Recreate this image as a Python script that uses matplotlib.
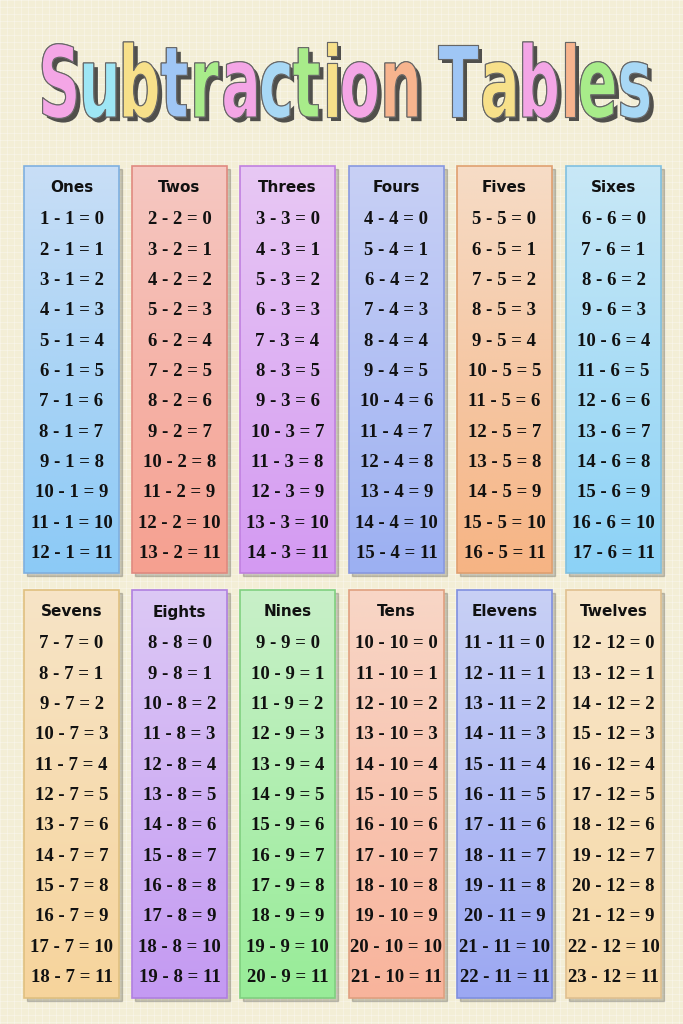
import matplotlib
matplotlib.use("Agg")
import matplotlib.pyplot as plt
import matplotlib.patheffects as pe
import numpy as np
from matplotlib.colors import to_rgb
from matplotlib.patches import Rectangle, PathPatch
from matplotlib.textpath import TextPath
from matplotlib.font_manager import FontProperties
from matplotlib.transforms import Affine2D

title = "Subtraction Tables"
title_colors = ["#f4a6e6", "#9ee6f5", "#f7e08a", "#9fc6f5", "#a8ec8a", "#f4a6e6", "#a8d8f5",
                "#a8ec8a", "#f7e08a", "#f4a6e6", "#f7b48e", None, "#9fc6f5", "#f7e08a",
                "#f4a6e6", "#f7b48e", "#a8ec8a", "#a8d8f5"]
table_names = ["Ones", "Twos", "Threes", "Fours", "Fives", "Sixes",
               "Sevens", "Eights", "Nines", "Tens", "Elevens", "Twelves"]
subtrahends = [1, 2, 3, 4, 5, 6, 7, 8, 9, 10, 11, 12]
differences = [0, 1, 2, 3, 4, 5, 6, 7, 8, 9, 10, 11]
top_colors = ["#c8def6", "#f6c8c2", "#e8c8f4", "#c8d0f5", "#f6dcc6", "#c8e8f6",
              "#f7e4c6", "#dcc8f5", "#c8f0c8", "#f8d6c6", "#c8d0f5", "#f8e6ca"]
bottom_colors = ["#8ccaf6", "#f5a090", "#d49af2", "#9cb0f2", "#f6b484", "#8cd2f6",
                 "#f6d49c", "#c49af2", "#98ec98", "#f8b49c", "#9ca8f2", "#f6d8a6"]
border_colors = ["#7fb0e0", "#e08a80", "#c080e0", "#8898e0", "#e0a070", "#80c0e0",
                 "#e0c080", "#b080e0", "#80d080", "#e0a080", "#8090e0", "#e0c090"]

W, H = 683, 1024
fig = plt.figure(figsize=(W / 100, H / 100), dpi=100)
ax = fig.add_axes([0, 0, 1, 1])
ax.set_xlim(0, W)
ax.set_ylim(H, 0)
ax.axis("off")

ax.add_patch(Rectangle((0, 0), W, H, color="#f3eed6", zorder=0))
for x in np.arange(0, W, 7):
    ax.plot([x, x], [0, H], color="white", lw=0.6, alpha=0.35, zorder=0.1)
for y in np.arange(0, H, 7):
    ax.plot([0, W], [y, y], color="white", lw=0.6, alpha=0.35, zorder=0.1)

# title with condensed glyph paths
fp = FontProperties(family="DejaVu Sans", weight="bold")
size = 100.0
paths, widths = [], []
for ch in title:
    if ch == " ":
        paths.append(None); widths.append(30.0); continue
    p = TextPath((0, 0), ch, size=size, prop=fp)
    ext = p.get_extents()
    paths.append(p); widths.append(ext.x1 + 4)
total = sum(widths)
x_left, x_right = 38, 652
sx = (x_right - x_left) / total
cap_h = 72.0
sy = cap_h / (size * 0.729)
baseline = 117
x = x_left
for p, w, c in zip(paths, widths, title_colors):
    if p is not None:
        tr = Affine2D().scale(sx, -sy).translate(x, baseline)
        pp = PathPatch(tr.transform_path(p), fc=c, ec="#666666", lw=0.8, zorder=5,
                       path_effects=[pe.withSimplePatchShadow(offset=(3, -3), shadow_rgbFace="#333333", alpha=0.85),
                                     pe.Normal()])
        ax.add_patch(pp)
    x += w * sx

card_x = [24, 132, 240, 349, 457, 566]
card_w = 95
rows_y = [(166, 573), (590, 998)]
numfam = ["Liberation Serif", "DejaVu Serif"]
for i, name in enumerate(table_names):
    cx = card_x[i % 6]
    y0, y1 = rows_y[i // 6]
    ax.add_patch(Rectangle((cx + 3, y0 + 3), card_w, y1 - y0, color="#000000", alpha=0.18, zorder=1))
    a = np.array(to_rgb(top_colors[i]))
    b = np.array(to_rgb(bottom_colors[i]))
    t = np.linspace(0, 1, 64)[:, None]
    grad = (a * (1 - t) + b * t)[:, None, :]
    ax.imshow(grad, extent=(cx, cx + card_w, y1, y0), aspect="auto", zorder=2, interpolation="bilinear")
    ax.add_patch(Rectangle((cx, y0), card_w, y1 - y0, fill=False, ec=border_colors[i], lw=1.2, zorder=3))
    ax.text(cx + card_w / 2, y0 + 22, name, ha="center", va="center", fontsize=11,
            fontweight="bold", family=["DejaVu Sans"], color="#111111", zorder=4)
    n = subtrahends[i]
    for k, d in enumerate(differences):
        ax.text(cx + card_w / 2, y0 + 54 + k * 30.3, f"{n + d} - {n} = {d}", ha="center", va="center",
                fontsize=13.5, fontweight="bold", family=numfam, color="#111111", zorder=4)

ax.set_xlim(0, W)
ax.set_ylim(H, 0)
fig.savefig("out.png", dpi=100)
